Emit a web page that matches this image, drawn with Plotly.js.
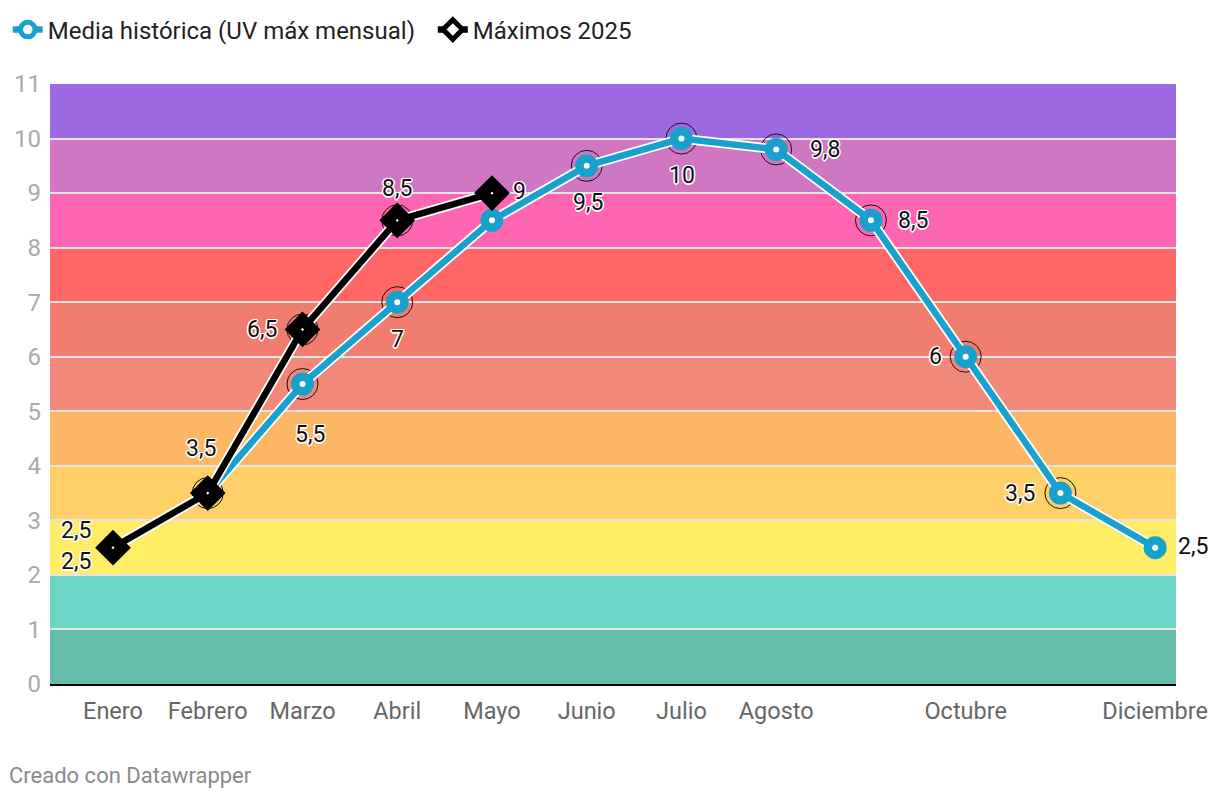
<!DOCTYPE html>
<html>
<head>
<meta charset="utf-8">
<script src="https://cdn.plot.ly/plotly-3.0.1.min.js"></script>
<style>
html,body{margin:0;padding:0;background:#fff;}
#chart{width:1220px;height:800px;}
</style>
</head>
<body>
<div id="chart"></div>
<script>
// ---- data ----
const months = ["Enero","Febrero","Marzo","Abril","Mayo","Junio","Julio","Agosto","Septiembre","Octubre","Noviembre","Diciembre"];
const shownTickLabels = ["Enero","Febrero","Marzo","Abril","Mayo","Junio","Julio","Agosto","Octubre","Diciembre"];
const mediaHistorica = [2.5, 3.5, 5.5, 7, 8.5, 9.5, 10, 9.8, 8.5, 6, 3.5, 2.5];
const maximos2025 = [2.5, 3.5, 6.5, 8.5, 9];
const histHighlighted = ["Marzo","Abril","Junio","Julio","Agosto","Septiembre","Octubre","Noviembre"];
const maxHighlighted = ["Febrero","Marzo","Abril"];
const uvBandEdges = [0,1,2,3,4,5,6,7,8,9,10,11];
const uvBandColors = ["#66bbab","#6cd6c6","#ffec67","#fed067","#fcb766","#f2887a","#f07d6f","#ff6767","#ff66b1","#d077c4","#9d69e0"];
const seriesNames = ["Media histórica (UV máx mensual)","Máximos 2025"];

const BLUE = "#18a1cd";
const idx = months.map((m,i)=>i);
const idx25 = maximos2025.map((v,i)=>i);
const fmt = v => String(v).replace(".", ",");

const traces = [];
// highlight rings (under lines)
const hx = [], hy = [];
months.forEach((m,i)=>{ if(histHighlighted.includes(m)){hx.push(i); hy.push(mediaHistorica[i]);} });
months.forEach((m,i)=>{ if(i < maximos2025.length && maxHighlighted.includes(m)){hx.push(i); hy.push(maximos2025[i]);} });
traces.push({x: hx, y: hy, mode:"markers", hoverinfo:"skip", showlegend:false,
  marker:{symbol:"circle-open", size:31, color:"#111", line:{color:"#111", width:1}}});
// halos + series
traces.push({x: idx, y: mediaHistorica, mode:"lines", line:{color:"#fff", width:10}, hoverinfo:"skip", showlegend:false});
traces.push({x: idx, y: mediaHistorica, mode:"lines+markers", name: seriesNames[0],
  line:{color:BLUE, width:6.5},
  marker:{symbol:"circle", size:14.5, color:"#fff", line:{color:BLUE, width:8.5}}});
traces.push({x: idx25, y: maximos2025, mode:"lines", line:{color:"#fff", width:10}, hoverinfo:"skip", showlegend:false});
traces.push({x: idx25, y: maximos2025, mode:"lines+markers", name: seriesNames[1],
  line:{color:"#000", width:6.5},
  marker:{symbol:"diamond", size:15, color:"#fff", line:{color:"#000", width:11.5}}});

// bands
const shapes = uvBandColors.map((c,i)=>({type:"rect", xref:"paper", x0:0, x1:1, yref:"y",
  y0: uvBandEdges[i], y1: uvBandEdges[i+1], fillcolor:c, line:{width:0}, layer:"below"}));

// labels
const shadow = "1px 1px 0 #fff, -1px -1px 0 #fff, 1px -1px 0 #fff, -1px 1px 0 #fff, 0 1.5px 0 #fff, 0 -1.5px 0 #fff, 1.5px 0 0 #fff, -1.5px 0 0 #fff";
const histOffsets = {
  "Enero":[-37,-14], "Marzo":[8,-50], "Abril":[0,-37], "Junio":[1,-37], "Julio":[1,-37],
  "Agosto":[49,0], "Septiembre":[42,0], "Octubre":[-30,0], "Noviembre":[-40,0], "Diciembre":[38,1]
};
const maxOffsets = {
  "Enero":[-37,17], "Febrero":[-7,45], "Marzo":[-40,0], "Abril":[0,32], "Mayo":[28,2]
};
const labelFont = {family:"Roboto", size:23, color:"#111", shadow:shadow};
const annotations = [];
months.forEach((m,i)=>{
  if(histOffsets[m]) annotations.push({x:i, y:mediaHistorica[i], xref:"x", yref:"y", text:fmt(mediaHistorica[i]),
    showarrow:false, xshift:histOffsets[m][0], yshift:histOffsets[m][1], font:labelFont});
});
maximos2025.forEach((v,i)=>{
  const m = months[i];
  if(maxOffsets[m]) annotations.push({x:i, y:v, xref:"x", yref:"y", text:fmt(v),
    showarrow:false, xshift:maxOffsets[m][0], yshift:maxOffsets[m][1], font:labelFont});
});
annotations.push({xref:"paper", yref:"paper", x:-0.0385, y:-0.153, xanchor:"left", yanchor:"middle",
  text:"Creado con Datawrapper", showarrow:false, font:{family:"Roboto", size:22, color:"#8a8a8a"}});

const tickvals = shownTickLabels.map(l=>months.indexOf(l));

const layout = {
  width:1220, height:800,
  margin:{l:50, r:44, t:84, b:116, autoexpand:false},
  paper_bgcolor:"#fff", plot_bgcolor:"#fff",
  font:{family:"Roboto", size:24, color:"#333"},
  showlegend:true,
  legend:{orientation:"h", x:-0.0375, xanchor:"left", y:1.09, yanchor:"middle",
    font:{family:"Roboto", size:24, color:"#222"}, itemwidth:30, entrywidth:380, entrywidthmode:"pixels"},
  xaxis:{range:[-0.665, 11.22], tickvals:tickvals, ticktext:shownTickLabels, showgrid:false,
    zeroline:false, showline:true, linecolor:"#000", linewidth:2, ticks:"", ticklen:0,
    ticklabelstandoff:5, automargin:false,
    tickfont:{family:"Roboto", size:23.5, color:"#666"}, fixedrange:true},
  yaxis:{range:[0, 11], tickvals:uvBandEdges, showgrid:true, gridcolor:"#e4e4e4", gridwidth:2,
    zeroline:false, showline:false, ticks:"", ticklabelstandoff:8, automargin:false,
    tickfont:{family:"Roboto", size:24, color:"#aaa"}, fixedrange:true},
  shapes:shapes,
  annotations:annotations
};

Plotly.newPlot("chart", traces, layout, {displayModeBar:false, staticPlot:true});
</script>
</body>
</html>
